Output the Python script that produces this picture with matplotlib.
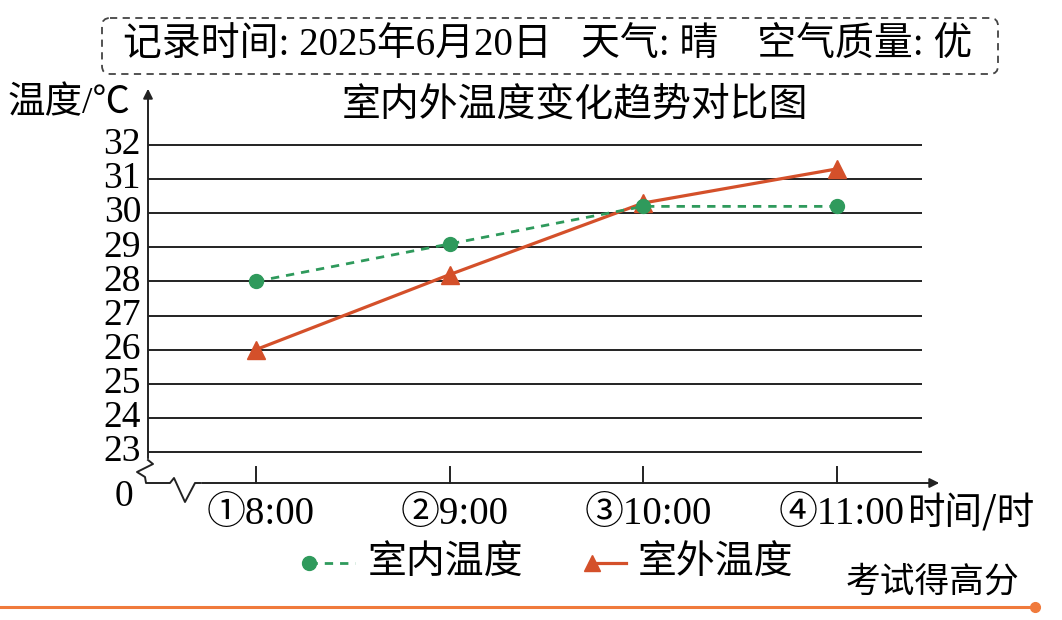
import matplotlib
matplotlib.use("Agg")
import matplotlib.pyplot as plt
from matplotlib.patches import FancyBboxPatch

plt.rcParams['font.family'] = ['Liberation Serif', 'Noto Sans CJK SC', 'DejaVu Sans']

times = ["①8:00", "②9:00", "③10:00", "④11:00"]
indoor = [28.0, 29.1, 30.2, 30.2]
outdoor = [26.0, 28.2, 30.3, 31.3]
y_ticks = list(range(23, 33))

green = "#2f9a5c"
red = "#d4502a"
orange = "#f07a3c"

W, H = 1062, 620
fig = plt.figure(figsize=(W / 100, H / 100), dpi=100)

# pixel helpers for the plot area
x0_px, dx_px = 256, 193.7      # first category, spacing
y32_px, dy_px = 145, 34.1      # 32 deg line, px per degree
left_px, right_px, top_px, bot_px = 148, 945, 80, 505


def xd(px):
    return (px - x0_px) / dx_px


def yd(py):
    return 32 - (py - y32_px) / dy_px


ax = fig.add_axes([left_px / W, 1 - bot_px / H, (right_px - left_px) / W, (bot_px - top_px) / H])
ax.set_xlim(xd(left_px), xd(right_px))
ax.set_ylim(yd(bot_px), yd(top_px))
ax.axis("off")

# grid lines
ax.hlines(y_ticks, xd(148), xd(922), color="#222222", lw=1.4)
for t in y_ticks:
    ax.text(xd(141), t, str(t), ha="right", va="center", fontsize=27)

# y axis with arrow
ax.annotate("", xy=(xd(148), yd(86)), xytext=(xd(148), yd(461)),
            arrowprops=dict(arrowstyle="-|>", color="#222222", lw=1.4, mutation_scale=14))
# break zigzag
zx = [148, 153, 137, 145, 146, 170, 174, 185, 195, 200]
zy = [460, 464, 472, 477, 483, 483, 478, 502, 483, 483]
ax.plot([xd(v) for v in zx], [yd(v) for v in zy], color="#222222", lw=1.4,
        clip_on=False)
# x axis with arrow
ax.annotate("", xy=(xd(942), yd(483)), xytext=(xd(199), yd(483)),
            arrowprops=dict(arrowstyle="-|>", color="#222222", lw=1.4, mutation_scale=14))
ax.text(xd(124), yd(497), "0", ha="center", va="center", fontsize=27)

xs = list(range(len(times)))
for i, lab in enumerate(times):
    ax.plot([i, i], [yd(483), yd(467)], color="#222222", lw=1.4)
    ax.text(i + xd(261) - xd(256), yd(514), lab, ha="center", va="center", fontsize=28)
ax.text(xd(972), yd(514), "时间/时", ha="center", va="center", fontsize=27,
        family=['Noto Sans CJK SC'])

ax.plot(xs, indoor, color=green, lw=2.0, ls=(0, (3, 2.5)), marker="o", ms=10,
        zorder=4)
ax.plot(xs, outdoor, color=red, lw=2.3, marker="^", ms=13, zorder=3)

# overlay in pixel coordinates for the surrounding text
ov = fig.add_axes([0, 0, 1, 1], facecolor="none")
ov.set_xlim(0, W)
ov.set_ylim(H, 0)
ov.axis("off")

box = FancyBboxPatch((102, 18), 896, 56, boxstyle="round,pad=0,rounding_size=8",
                     fill=False, ec="#444444", lw=1.3, ls=(0, (4, 3)))
ov.add_patch(box)
ov.text(548, 46, "记录时间: 2025年6月20日   天气: 晴    空气质量: 优",
        ha="center", va="center", fontsize=28)
ov.text(8, 104, "温度/℃", ha="left", va="center", fontsize=27)
ov.text(575, 104, "室内外温度变化趋势对比图", ha="center", va="center", fontsize=28,
        family=['Noto Sans CJK SC'])

# legend
ov.plot([309, 355], [563, 563], color=green, lw=2.0, ls=(0, (3, 2.5)))
ov.plot([309], [563], color=green, marker="o", ms=10, ls="none")
ov.text(368, 563, "室内温度", ha="left", va="center", fontsize=28,
        family=['Noto Sans CJK SC'])
ov.plot([590, 626], [563, 563], color=red, lw=2.3)
ov.plot([592], [563], color=red, marker="^", ms=12, ls="none")
ov.text(638, 563, "室外温度", ha="left", va="center", fontsize=28,
        family=['Noto Sans CJK SC'])

ov.text(932, 582, "考试得高分", ha="center", va="center", fontsize=25,
        family=['Noto Sans CJK SC'])
ov.plot([0, 1035], [607, 607], color=orange, lw=2.2)
ov.plot([1035], [607], color=orange, marker="o", ms=7)

fig.savefig("out.png", dpi=100)
